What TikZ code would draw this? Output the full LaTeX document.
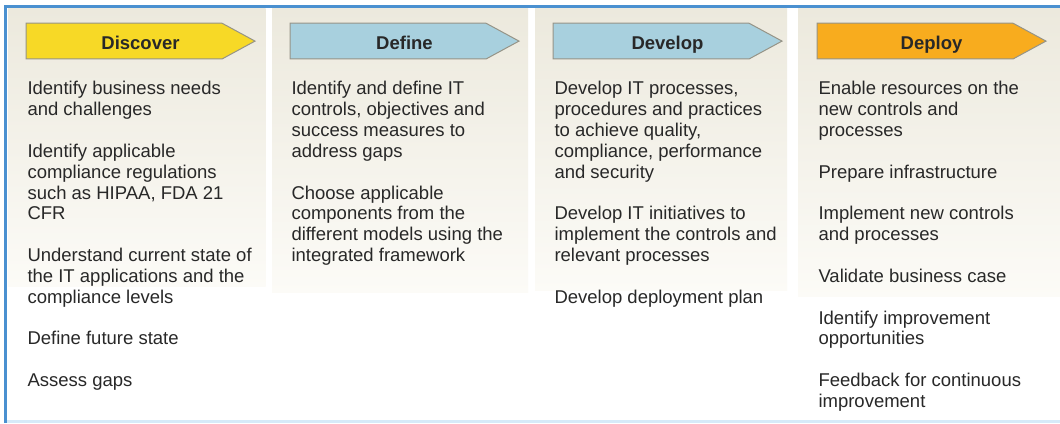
\documentclass[tikz,border=0pt]{standalone}
\usepackage{fontspec}
\setmainfont{Liberation Sans}

\definecolor{framebl}{RGB}{74,144,208}
\definecolor{framelight}{RGB}{214,234,248}
\definecolor{paneltop}{RGB}{236,233,221}
\definecolor{panelbot}{RGB}{252,251,247}
\definecolor{discoverfill}{RGB}{247,217,38}
\definecolor{definefill}{RGB}{168,208,222}
\definecolor{deployfill}{RGB}{248,172,30}
\definecolor{arrowedge}{RGB}{150,148,135}
\definecolor{bodytext}{RGB}{40,40,40}

\newcommand\itemfont{\fontsize{18.5pt}{20.83pt}\selectfont}
\newcommand\headfont{\fontsize{18.5pt}{20pt}\selectfont\bfseries}
\newcommand\firstline{\rule{0pt}{16pt}}

\tikzset{
  panel/.style={top color=paneltop, bottom color=panelbot, draw=none},
  phase/.style={draw=arrowedge, line width=1pt, line join=miter},
  phaselabel/.style={anchor=base, inner sep=0pt, font=\headfont, text=bodytext},
  item/.style={anchor=north west, inner sep=0pt, outer sep=0pt, align=left,
               font=\itemfont, text=bodytext},
}

% phase arrow: #1 fill colour, #2 left edge
\newcommand\phasearrow[2]{%
  \filldraw[phase, fill=#1] (#2,399.8) -- ++(196,0) -- ++(33,-17.9)
    -- ++(-33,-17.9) -- ++(-196,0) -- cycle;}

\begin{document}
\begin{tikzpicture}[x=1pt,y=1pt]
\useasboundingbox (0,0) rectangle (1060,423);
\fill[white] (0,0) rectangle (1060,423);

% column panels
\shade[panel] (8,414.7) rectangle (265.5,136);
\shade[panel] (272,414.7) rectangle (528,130);
\shade[panel] (535,414.7) rectangle (787,132);
\shade[panel] (798,414.7) rectangle (1060,126);

% frame
\fill[framebl] (4,414.7) rectangle (1060,418.3);
\fill[framebl] (4,0) rectangle (6.7,418.3);
\fill[framelight] (6.7,0) rectangle (1060,3);

% phase arrows
\phasearrow{discoverfill}{26}
\phasearrow{definefill}{290}
\phasearrow{definefill}{553}
\phasearrow{deployfill}{817}

\node[phaselabel] (hdiscover) at (140.5,373.2) {Discover};
\node[phaselabel] (hdefine)   at (404.5,373.2) {Define};
\node[phaselabel] (hdevelop)  at (667.5,373.2) {Develop};
\node[phaselabel] (hdeploy)   at (931.5,373.2) {Deploy};

% Discover
\node[item] (dis1) at (27.5,344)    {\firstline Identify business needs\\and challenges};
\node[item] (dis2) at (27.5,281.51) {\firstline Identify applicable\\compliance regulations\\such as HIPAA, FDA 21\\CFR};
\node[item] (dis3) at (27.5,177.36) {\firstline Understand current state of\\the IT applications and the\\compliance levels};
\node[item] (dis4) at (27.5,94.04)  {\firstline Define future state};
\node[item] (dis5) at (27.5,52.38)  {\firstline Assess gaps};

% Define
\node[item] (def1) at (291.5,344)    {\firstline Identify and define IT\\controls, objectives and\\success measures to\\address gaps};
\node[item] (def2) at (291.5,239.85) {\firstline Choose applicable\\components from the\\different models using the\\integrated framework};

% Develop
\node[item] (dev1) at (554.5,344)    {\firstline Develop IT processes,\\procedures and practices\\to achieve quality,\\compliance, performance\\and security};
\node[item] (dev2) at (554.5,219.02) {\firstline Develop IT initiatives to\\implement the controls and\\relevant processes};
\node[item] (dev3) at (554.5,135.7)  {\firstline Develop deployment plan};

% Deploy
\node[item] (dep1) at (818.5,344)    {\firstline Enable resources on the\\new controls and\\processes};
\node[item] (dep2) at (818.5,260.68) {\firstline Prepare infrastructure};
\node[item] (dep3) at (818.5,219.02) {\firstline Implement new controls\\and processes};
\node[item] (dep4) at (818.5,156.53) {\firstline Validate business case};
\node[item] (dep5) at (818.5,114.87) {\firstline Identify improvement\\opportunities};
\node[item] (dep6) at (818.5,52.38)  {\firstline Feedback for continuous\\improvement};
\end{tikzpicture}
\end{document}
